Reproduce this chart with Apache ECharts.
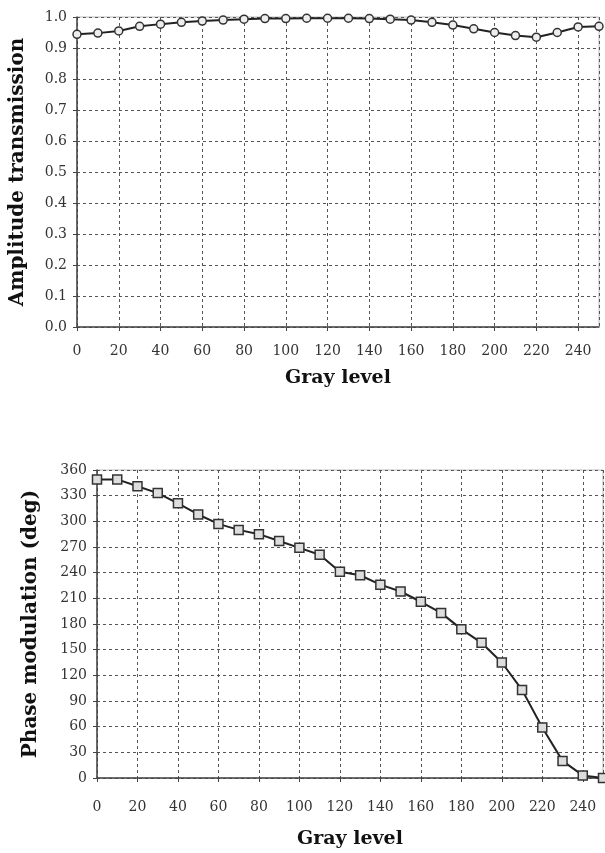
<!DOCTYPE html>
<html><head><meta charset="utf-8">
<script src="https://cdn.jsdelivr.net/npm/echarts@6/dist/echarts.min.js"></script>
<style>html,body{margin:0;padding:0;background:#fff}#c{width:605px;height:853px}</style>
</head><body><div id="c"></div>
<script>
const grayLevels = [0,10,20,30,40,50,60,70,80,90,100,110,120,130,140,150,160,170,180,190,200,210,220,230,240,250];
const amplitude = [0.944,0.948,0.955,0.97,0.977,0.983,0.987,0.99,0.993,0.995,0.995,0.996,0.996,0.996,0.995,0.993,0.99,0.983,0.974,0.962,0.95,0.94,0.935,0.95,0.968,0.97];
const phase = [349,349,341,333,321,308,297,290,285,277,269,261,241,237,226,218,206,193,174,158,135,103,59,20,3,0];
const xTickLabels = ['0','20','40','60','80','100','120','140','160','180','200','220','240'];
const ampTickLabels = ['0.0','0.1','0.2','0.3','0.4','0.5','0.6','0.7','0.8','0.9','1.0'];
const phaseTickLabels = ['0','30','60','90','120','150','180','210','240','270','300','330','360'];

const FONT = 'DejaVu Serif';
const chart = echarts.init(document.getElementById('c'), null, {renderer: 'canvas'});

function xAxisCfg(gridIndex, margin, nameGap) {
  return {
    type: 'value', gridIndex, min: 0, max: 250, interval: 20,
    name: 'Gray level', nameLocation: 'middle', nameGap,
    nameTextStyle: {fontFamily: FONT, fontWeight: 'bold', fontSize: 19, color: '#111'},
    axisLine: {show: true, lineStyle: {color: '#444', width: 1.5}},
    axisTick: {show: true, length: 4, lineStyle: {color: '#444'}},
    axisLabel: {
      fontFamily: FONT, fontSize: 14, color: '#333', margin, showMaxLabel: false,
      formatter: v => { const s = String(v); return xTickLabels.indexOf(s) >= 0 ? s : ''; }
    },
    splitLine: {show: true, lineStyle: {color: '#555', type: [3, 3], width: 1}}
  };
}

const option = {
  animation: false,
  backgroundColor: '#fff',
  grid: [
    {left: 77, top: 17, width: 522, height: 310, show: true, borderColor: '#bbb', borderWidth: 1},
    {left: 97, top: 470, width: 506, height: 308, show: true, borderColor: '#bbb', borderWidth: 1}
  ],
  xAxis: [xAxisCfg(0, 17, 42), xAxisCfg(1, 22, 52)],
  yAxis: [
    {
      type: 'value', gridIndex: 0, min: 0, max: 1, interval: 0.1,
      name: 'Amplitude transmission', nameLocation: 'middle', nameRotate: 90, nameGap: 49,
      nameTextStyle: {fontFamily: FONT, fontWeight: 'bold', fontSize: 20, color: '#111'},
      axisLine: {show: true, lineStyle: {color: '#444', width: 1.5}},
      axisTick: {show: true, length: 4, lineStyle: {color: '#444'}},
      axisLabel: {fontFamily: FONT, fontSize: 14, color: '#333', margin: 10,
        formatter: v => ampTickLabels[Math.round(v * 10)] || ''},
      splitLine: {show: true, lineStyle: {color: '#555', type: [3, 3], width: 1}}
    },
    {
      type: 'value', gridIndex: 1, min: 0, max: 360, interval: 30,
      name: 'Phase modulation (deg)', nameLocation: 'middle', nameRotate: 90, nameGap: 56,
      nameTextStyle: {fontFamily: FONT, fontWeight: 'bold', fontSize: 20, color: '#111'},
      axisLine: {show: true, lineStyle: {color: '#444', width: 1.5}},
      axisTick: {show: true, length: 4, lineStyle: {color: '#444'}},
      axisLabel: {fontFamily: FONT, fontSize: 14, color: '#333', margin: 10,
        formatter: v => phaseTickLabels[Math.round(v / 30)] || ''},
      splitLine: {show: true, lineStyle: {color: '#555', type: [3, 3], width: 1}}
    }
  ],
  series: [
    {
      type: 'line', xAxisIndex: 0, yAxisIndex: 0,
      data: grayLevels.map((g, i) => [g, amplitude[i]]),
      symbol: 'circle', symbolSize: 8, showAllSymbol: true, clip: false,
      lineStyle: {color: '#222', width: 2},
      itemStyle: {color: '#eee', borderColor: '#333', borderWidth: 1.5}
    },
    {
      type: 'line', xAxisIndex: 1, yAxisIndex: 1,
      data: grayLevels.map((g, i) => [g, phase[i]]),
      symbol: 'rect', symbolSize: 9, showAllSymbol: true, clip: false,
      lineStyle: {color: '#222', width: 2},
      itemStyle: {color: '#ddd', borderColor: '#333', borderWidth: 1.5}
    }
  ]
};
chart.setOption(option);
</script>
</body></html>
